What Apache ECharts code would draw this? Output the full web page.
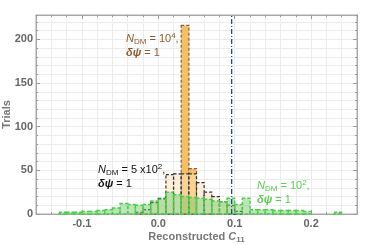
<!DOCTYPE html>
<html>
<head>
<meta charset="utf-8">
<script src="https://cdn.jsdelivr.net/npm/echarts@6/dist/echarts.min.js"></script>
<style>html,body{margin:0;padding:0;background:#fff}#c{width:374px;height:245px}</style>
</head>
<body>
<div id="c"></div>
<script>
// ---- data ----
const BIN_W = 0.01;
const orangeBins = [0.03, 0.04];
const orangeCounts = [216, 52];
const blackBins = [-0.03, -0.02, -0.01, 0.00, 0.01, 0.02, 0.03, 0.04, 0.05, 0.06, 0.07, 0.08, 0.09, 0.10];
const blackCounts = [2, 5, 13, 18, 45, 46, 46, 46, 36, 25, 20, 14, 10, 3];
const greenBins = [-0.13, -0.12, -0.11, -0.10, -0.09, -0.08, -0.07, -0.06, -0.05, -0.04, -0.03, -0.02, -0.01,
  0.00, 0.01, 0.02, 0.03, 0.04, 0.05, 0.06, 0.07, 0.08, 0.09, 0.10, 0.11, 0.12, 0.13, 0.14, 0.15, 0.16, 0.17,
  0.18, 0.19, 0.23];
const greenCounts = [2, 2, 2, 3, 3, 4, 5, 7, 12, 11, 10, 11, 15,
  17, 25, 22, 20, 19, 18, 17, 15, 14, 18, 11, 18, 5, 5, 5, 4, 4, 4,
  4, 3, 2];
const trueC11 = 0.096;
const xMajorTicks = [-0.1, 0.0, 0.1, 0.2];
const yMajorTicks = [0, 50, 100, 150, 200];
const xRange = [-0.16, 0.26];
const yRange = [0, 228];

const zip = (a, b) => a.map((v, i) => [v, b[i]]);

function barRender(fill, stroke, lw, dash) {
  return function (params, api) {
    const x0 = api.value(0), h = api.value(1);
    const p0 = api.coord([x0, 0]);
    const p1 = api.coord([x0 + BIN_W, h]);
    return {
      type: 'rect',
      shape: { x: p0[0], y: p1[1], width: p1[0] - p0[0], height: p0[1] - p1[1] },
      style: { fill: fill, stroke: stroke, lineWidth: lw, lineDash: dash }
    };
  };
}

const FONT = 'Liberation Sans';
const frame = '#a8a8a8';
const isMult = (v, s) => Math.abs(v / s - Math.round(v / s)) < 1e-6;

function makeLabel(left, top, a, color, b) {
  const base = { fill: color, fontFamily: FONT, fontSize: 11, lineHeight: 14 };
  let line1;
  if (b) line1 = '{n|N}{s|DM}{t| = ' + a + '}{p|' + b + '}{t|,}';
  else line1 = '{n|N}{s|DM}{t| = 10}{p|' + a + '}{t|,}';
  return {
    type: 'text', left: left, top: top, z: 10,
    style: {
      text: line1 + '\n{d|δψ}{t| = 1}',
      fill: color, fontFamily: FONT, fontSize: 11, lineHeight: 14,
      rich: {
        n: Object.assign({}, base, { fontStyle: 'italic' }),
        t: Object.assign({}, base),
        s: Object.assign({}, base, { fontSize: 8, lineHeight: 8, verticalAlign: 'bottom' }),
        p: Object.assign({}, base, { fontSize: 8, lineHeight: 8, verticalAlign: 'top' }),
        d: Object.assign({}, base, { fontStyle: 'italic', fontWeight: 'bold' })
      }
    }
  };
}

const chart = echarts.init(document.getElementById('c'), null, { renderer: 'canvas' });

const lineOn = { show: true, onZero: false, lineStyle: { color: frame, width: 1 } };
const lineOff = { show: false, onZero: false };
const baseX = { type: 'value', min: xRange[0], max: xRange[1], interval: 0.02, splitLine: { show: false } };
const baseY = { type: 'value', min: yRange[0], max: yRange[1], interval: 10, splitLine: { show: false } };
const tickMinor = { show: true, inside: true, length: 2, lineStyle: { color: '#999' } };

chart.setOption({
  animation: false,
  grid: { left: 36, right: 17, top: 15, bottom: 31, show: true, borderColor: frame, borderWidth: 1,
    outerBoundsMode: 'none', containLabel: false },
  xAxis: [
    Object.assign({}, baseX, {
      position: 'bottom', axisLine: lineOn, axisTick: tickMinor,
      splitLine: { show: true, lineStyle: { color: '#ececec', width: 1 } },
      axisLabel: {
        margin: 4, color: '#666', fontFamily: FONT, fontWeight: 'bold', fontSize: 11,
        formatter: v => isMult(v, 0.1) ? (Math.round(v * 10) / 10).toFixed(1) : ''
      },
      name: '{a|Reconstructed }{i|C}{s|11}',
      nameLocation: 'middle', nameGap: 16, nameMoveOverlap: false,
      nameTextStyle: {
        color: '#777', fontFamily: FONT, fontWeight: 'bold', fontSize: 11,
        rich: {
          a: { color: '#777', fontFamily: FONT, fontWeight: 'bold', fontSize: 11, lineHeight: 14 },
          i: { color: '#777', fontFamily: FONT, fontWeight: 'bold', fontStyle: 'italic', fontSize: 11, lineHeight: 14 },
          s: { color: '#777', fontFamily: FONT, fontWeight: 'bold', fontSize: 8, lineHeight: 8, verticalAlign: 'bottom' }
        }
      }
    }),
    Object.assign({}, baseX, {
      position: 'bottom', axisLine: lineOff,
      axisTick: { show: true, inside: true, length: 4, customValues: xMajorTicks, lineStyle: { color: '#999' } },
      axisLabel: { show: false }
    }),
    Object.assign({}, baseX, {
      position: 'top', axisLine: lineOn, axisTick: tickMinor, axisLabel: { show: false }
    }),
    Object.assign({}, baseX, {
      position: 'top', axisLine: lineOff,
      axisTick: { show: true, inside: true, length: 4, customValues: xMajorTicks, lineStyle: { color: '#999' } },
      axisLabel: { show: false }
    })
  ],
  yAxis: [
    Object.assign({}, baseY, {
      position: 'left', axisLine: lineOn, axisTick: tickMinor,
      splitLine: { show: true, lineStyle: { color: '#ececec', width: 1 } },
      axisLabel: {
        margin: 3, color: '#666', fontFamily: FONT, fontWeight: 'bold', fontSize: 11,
        formatter: v => isMult(v, 50) ? String(Math.round(v)) : ''
      },
      name: 'Trials', nameLocation: 'middle', nameGap: 24, nameRotate: 90, nameMoveOverlap: false,
      nameTextStyle: { color: '#777', fontFamily: FONT, fontWeight: 'bold', fontSize: 11 }
    }),
    Object.assign({}, baseY, {
      position: 'left', axisLine: lineOff,
      axisTick: { show: true, inside: true, length: 4, customValues: yMajorTicks, lineStyle: { color: '#999' } },
      axisLabel: { show: false }
    }),
    Object.assign({}, baseY, {
      position: 'right', axisLine: lineOn, axisTick: tickMinor, axisLabel: { show: false }
    }),
    Object.assign({}, baseY, {
      position: 'right', axisLine: lineOff,
      axisTick: { show: true, inside: true, length: 4, customValues: yMajorTicks, lineStyle: { color: '#999' } },
      axisLabel: { show: false }
    })
  ],
  series: [
    { type: 'custom', xAxisIndex: 0, yAxisIndex: 0, data: zip(orangeBins, orangeCounts),
      renderItem: barRender('rgb(247,190,98)', '#7d6440', 1.2, [3, 2]), z: 2 },
    { type: 'custom', xAxisIndex: 0, yAxisIndex: 0, data: zip(blackBins, blackCounts),
      renderItem: barRender('rgba(253,225,190,0.55)', '#333', 1.2, [3, 2]), z: 3 },
    { type: 'custom', xAxisIndex: 0, yAxisIndex: 0, data: zip(greenBins, greenCounts),
      renderItem: barRender('rgba(110,195,100,0.45)', '#48d048', 1.5, [3, 2]), z: 4 },
    { type: 'line', xAxisIndex: 0, yAxisIndex: 0, data: [[trueC11, yRange[0]], [trueC11, yRange[1]]],
      symbol: 'none', lineStyle: { color: '#1d4c8c', width: 1.3, type: [5, 2, 1, 2] }, z: 5 }
  ],
  graphic: [
    makeLabel(126, 32, '4', '#8b5a2b'),
    makeLabel(98, 163, '5 x10', '#111', '2'),
    makeLabel(257, 179, '2', '#5ccc50')
  ]
});
</script>
</body>
</html>
